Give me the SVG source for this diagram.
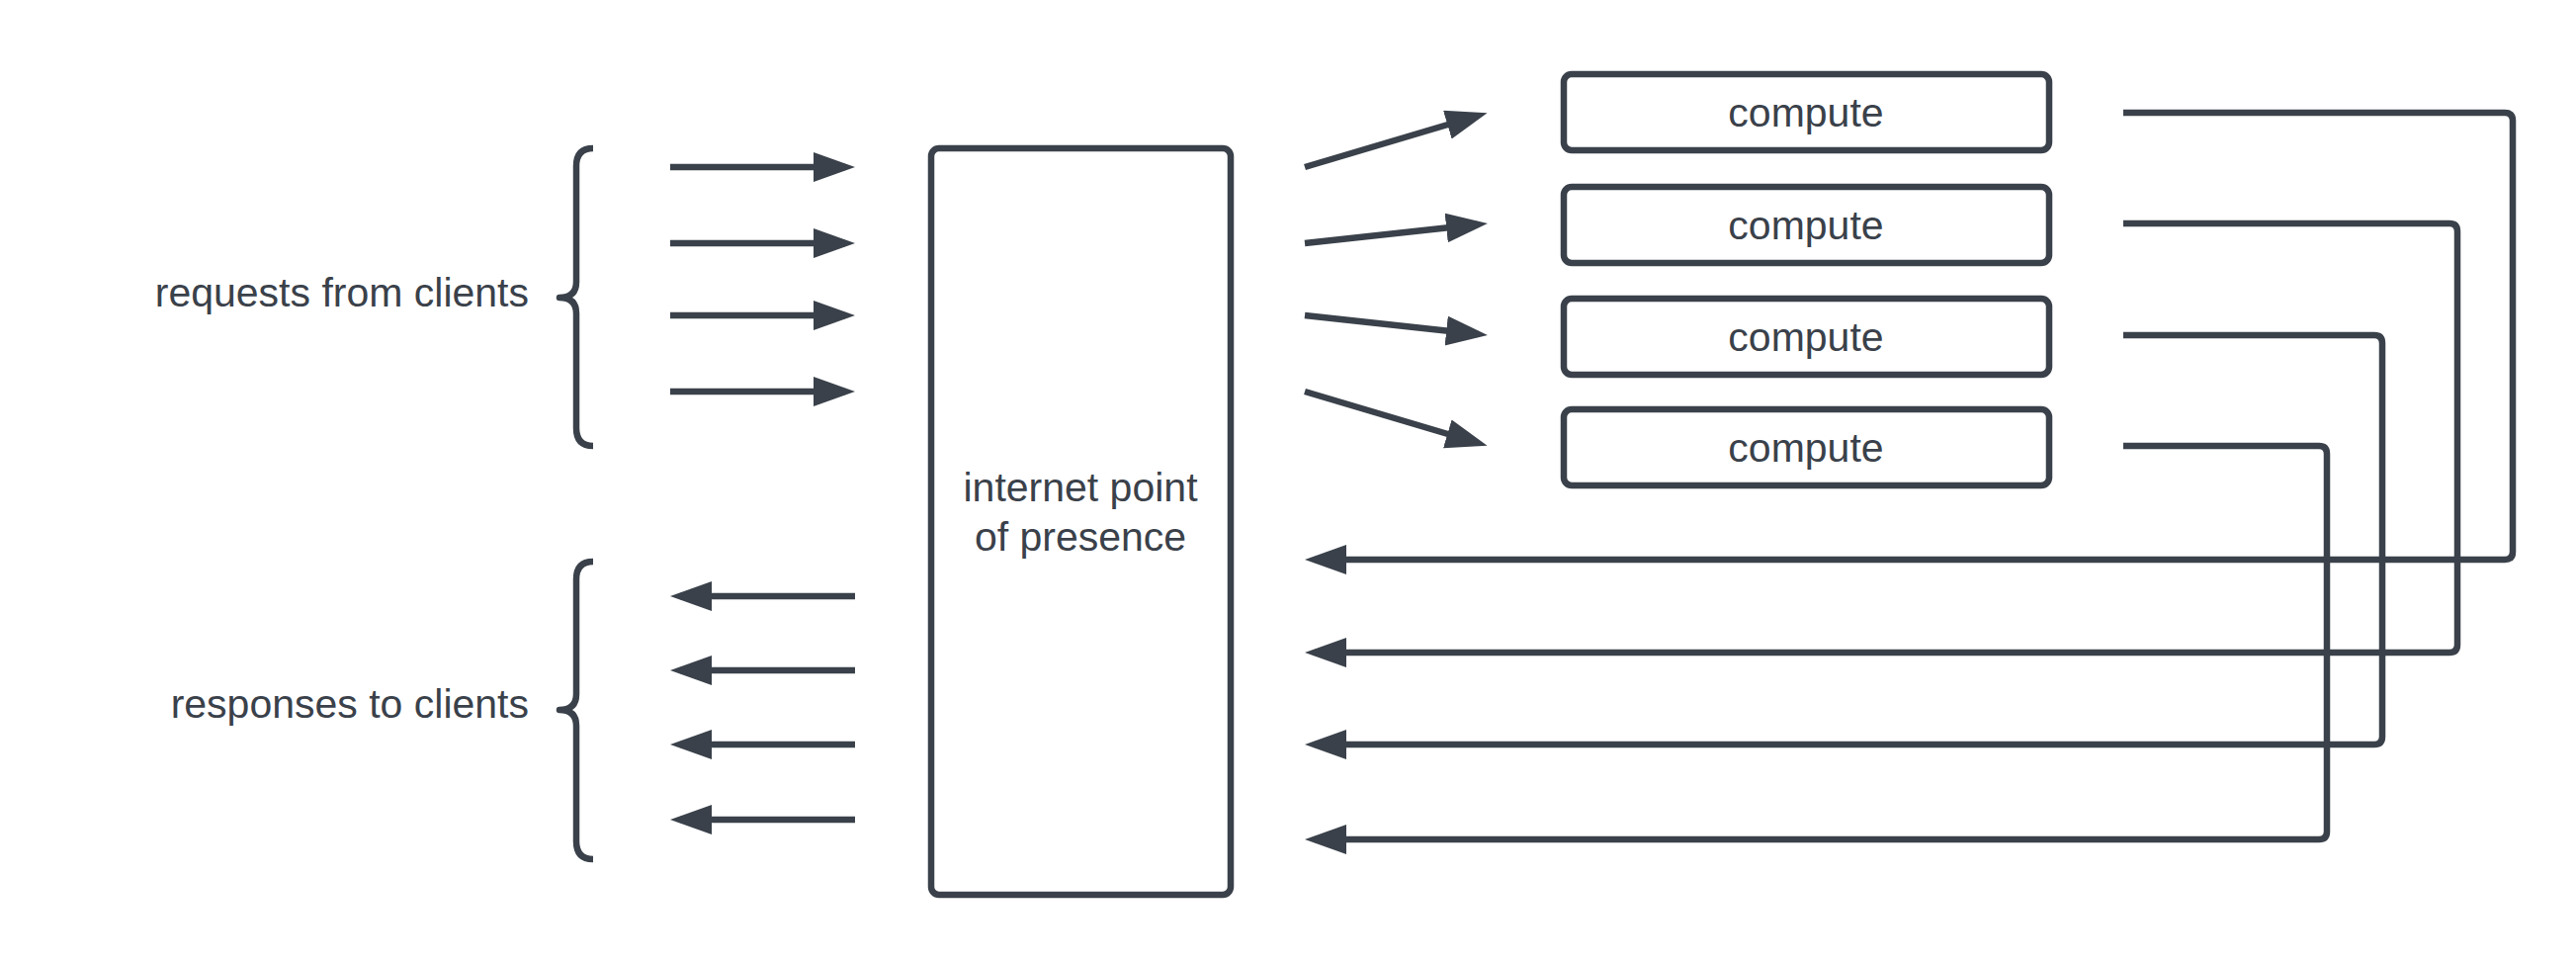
<svg xmlns="http://www.w3.org/2000/svg" width="2606" height="975" viewBox="0 0 2606 975">
<style>
.s{fill:none;stroke:#3a414a;stroke-width:6.5;stroke-linejoin:round}
.b{fill:#fff;stroke:#3a414a;stroke-width:6.5}
text{font-family:"Liberation Sans",Arial,sans-serif;font-size:41px;fill:#3a414a}
.c{text-anchor:middle}.r{text-anchor:end}
</style>
<defs><marker id="a" markerUnits="userSpaceOnUse" markerWidth="44" markerHeight="32" refX="32" refY="15" orient="auto"><path d="M0,0L42,15L0,30Z" fill="#3a414a"/></marker></defs>
<rect width="2606" height="975" fill="#fff"/>
<g id="braces">
<path class="s" d="M600,150Q583,150 583,168V285Q583,301 566,301Q583,301 583,317V433Q583,451 600,451"/>
<path class="s" d="M600,568Q583,568 583,586V702Q583,718 566,718Q583,718 583,734V851Q583,869 600,869"/>
</g>
<g id="labels">
<text class="r" x="535" y="310">requests from clients</text>
<text class="r" x="535" y="726">responses to clients</text>
</g>
<g id="pop"><rect class="b" x="942" y="150" width="303" height="755" rx="8"/>
<text class="c" x="1093" y="507">internet point</text><text class="c" x="1093" y="557">of presence</text></g>
<g id="compute1"><rect class="b" x="1582" y="75" width="491" height="77" rx="8"/><text class="c" x="1827" y="128">compute</text></g>
<g id="compute2"><rect class="b" x="1582" y="189" width="491" height="77" rx="8"/><text class="c" x="1827" y="242">compute</text></g>
<g id="compute3"><rect class="b" x="1582" y="302" width="491" height="77" rx="8"/><text class="c" x="1827" y="355">compute</text></g>
<g id="compute4"><rect class="b" x="1582" y="414" width="491" height="77" rx="8"/><text class="c" x="1827" y="467">compute</text></g>
<g id="connectors" class="s" marker-end="url(#a)">
<path d="M678,169H855"/><path d="M678,246H855"/><path d="M678,319H855"/><path d="M678,396H855"/>
<path d="M865,603H688"/><path d="M865,678H688"/><path d="M865,753H688"/><path d="M865,829H688"/>
<path d="M1320,169L1495,117"/><path d="M1320,246L1495,227"/><path d="M1320,319L1495,338"/><path d="M1320,396L1495,448"/>
<path d="M2148,114H2534Q2542,114 2542,122V558Q2542,566 2534,566H1330"/>
<path d="M2148,226H2478Q2486,226 2486,234V652Q2486,660 2478,660H1330"/>
<path d="M2148,339H2402Q2410,339 2410,347V745Q2410,753 2402,753H1330"/>
<path d="M2148,451H2346Q2354,451 2354,459V841Q2354,849 2346,849H1330"/>
</g>
</svg>
